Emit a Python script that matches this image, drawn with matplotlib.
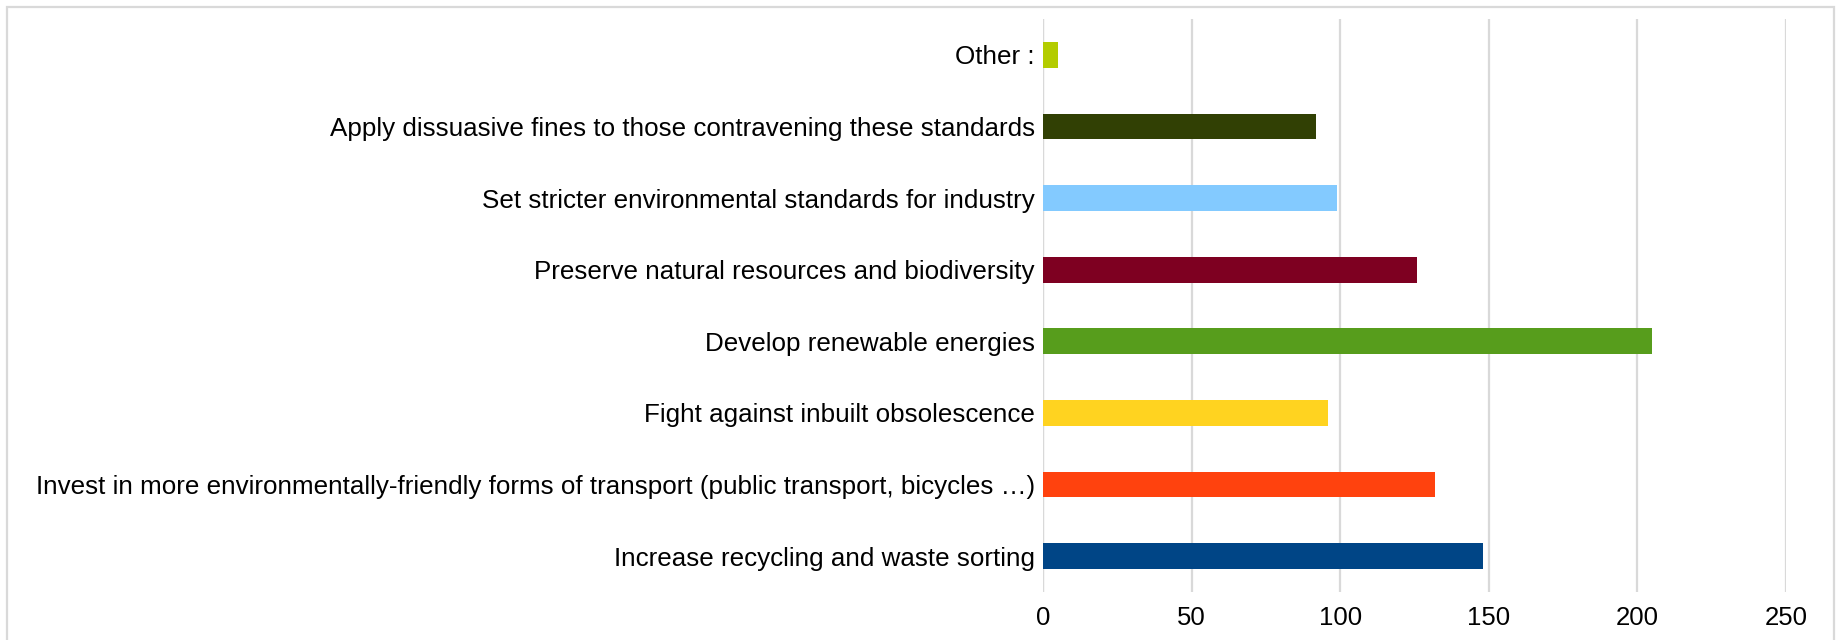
import matplotlib
matplotlib.use('Agg')
import matplotlib.pyplot as plt
from matplotlib.patches import Rectangle

# Categories (bottom to top) and counts
categories = [
    'Increase recycling and waste sorting',
    'Invest in more environmentally-friendly forms of transport (public transport, bicycles \u2026)',
    'Fight against inbuilt obsolescence',
    'Develop renewable energies',
    'Preserve natural resources and biodiversity',
    'Set stricter environmental standards for industry',
    'Apply dissuasive fines to those contravening these standards',
    'Other :',
]
values = [148, 132, 96, 205, 126, 99, 92, 5]
colors = ['#004586', '#ff420e', '#ffd320', '#579d1c', '#7e0021', '#83caff', '#314004', '#b3cc00']
xticks = [0, 50, 100, 150, 200, 250]

plt.rcParams['font.family'] = ['Liberation Sans', 'DejaVu Sans']

fig = plt.figure(figsize=(18.41, 6.4), dpi=100)
ax = fig.add_axes([1043 / 1841, 1 - 592 / 640, (1786 - 1043) / 1841, (592 - 19) / 640])

ypos = list(range(len(categories)))
ax.barh(ypos, values, height=0.36, color=colors, zorder=3)

ax.set_xlim(0, 250)
ax.set_ylim(-0.5, len(categories) - 0.5)
ax.set_xticks(xticks)
ax.set_yticks(ypos)
ax.set_yticklabels(categories)

ax.grid(axis='x', color='#d9d9d9', linewidth=1.6, zorder=0)
ax.axvline(0, color='#d9d9d9', linewidth=1.6, zorder=1)
for s in ax.spines.values():
    s.set_visible(False)
ax.tick_params(axis='both', length=0, colors='black')
ax.tick_params(axis='x', pad=10, labelsize=18.5)
ax.tick_params(axis='y', pad=6, labelsize=18.7)

# light frame around the chart
fig.patches.append(Rectangle((7 / 1841, -0.1), (1834 - 7) / 1841, 1.1 - 7 / 640,
                             transform=fig.transFigure, fill=False,
                             edgecolor='#d9d9d9', linewidth=1.6))

plt.savefig('out.png', dpi=100)
